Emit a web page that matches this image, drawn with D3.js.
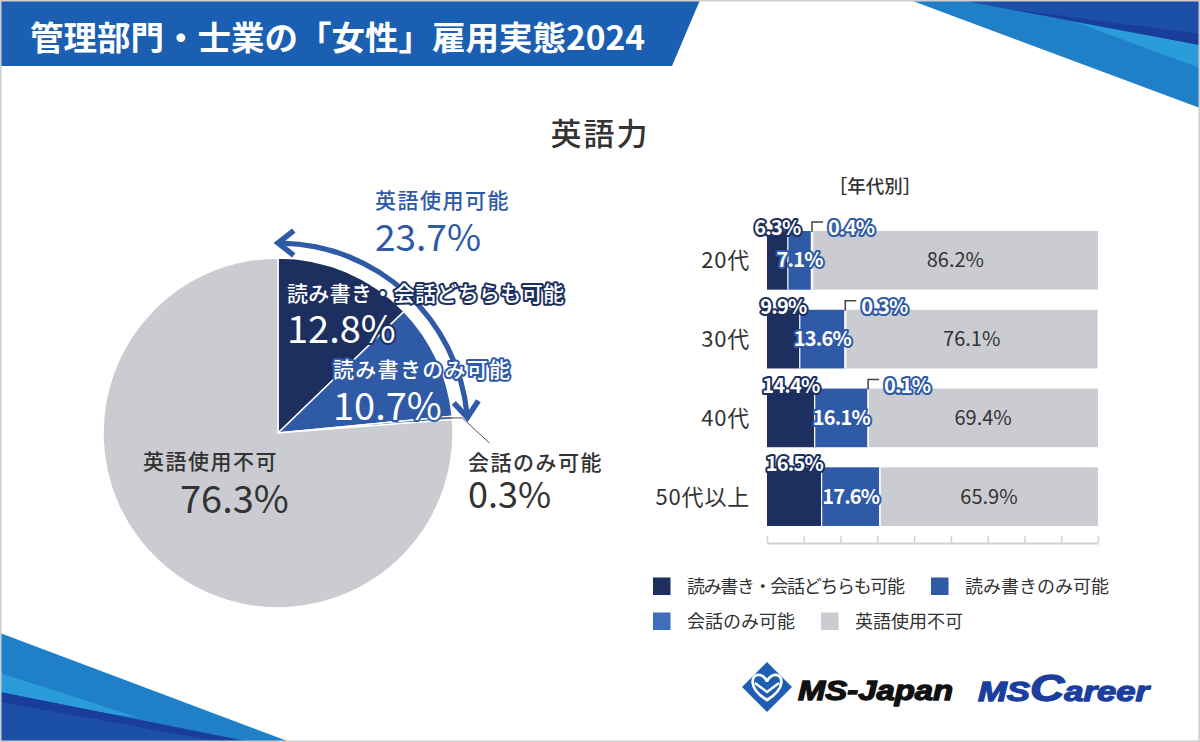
<!DOCTYPE html>
<html><head><meta charset="utf-8">
<script src="https://cdn.jsdelivr.net/npm/d3@7"></script>
<style>
body{margin:0;background:#fff;}
svg{display:block;font-family:"Noto Sans CJK JP","Noto Sans",sans-serif;}
</style></head><body>
<svg id="c" width="1200" height="742"></svg>
<script>
// ---------- DATA ----------
const headerTitle = "管理部門・士業の「女性」雇用実態2024";
const chartTitle = "英語力";
const subTitle = "［年代別］";
const categories = ["読み書き・会話どちらも可能", "読み書きのみ可能", "会話のみ可能", "英語使用不可"];
const colors = ["#1c2f5e", "#2f5aa5", "#3f6fba", "#cbccd1"];
const overallValues = [12.8, 10.7, 0.3, 76.3];
const usableLabel = "英語使用可能";
const usableValue = 23.7;
const ageGroups = ["20代", "30代", "40代", "50代以上"];
const bothValues = [6.3, 9.9, 14.4, 16.5];
const readValues = [7.1, 13.6, 16.1, 17.6];
const talkValues = [0.4, 0.3, 0.1, 0];
const noneValues = [86.2, 76.1, 69.4, 65.9];
const axisTicks = [0, 11.11, 22.22, 33.33, 44.44, 55.56, 66.67, 77.78, 88.89, 100];
const logoLeft = "MS-Japan";
const logoRight = ["MS", "C", "areer"];

// ---------- SETUP ----------
const svg = d3.select("#c");
const fmt = v => v.toFixed(1) + "%";

// ---------- DECORATION ----------
const deco = svg.append("g");
const poly = (pts, fill) => deco.append("polygon").attr("points", pts.map(p => p.join(",")).join(" ")).attr("fill", fill);
poly([[910,0],[1200,0],[1200,108]], "#1f80c8");
poly([[1075,22],[1200,45],[1200,68]], "#2b9cda");
poly([[960,0],[1200,0],[1200,45]], "#1b4fa8");
poly([[1010,9],[1200,34],[1200,45]], "#1a3d9c");
poly([[0,633],[290,742],[0,742]], "#1f80c8");
poly([[0,673],[140,718],[0,697]], "#2b9cda");
poly([[0,692],[250,742],[0,742]], "#1b4fa8");
poly([[0,692],[250,742],[222,742],[0,702]], "#1a3d9c");

// header band
poly([[0,0],[700,0],[672,66],[0,66]], "#1b5fb2");
svg.append("text").attr("x", 30).attr("y", 50)
  .attr("fill", "#fff").attr("font-size", 33).attr("font-weight", 700)
  .attr("textLength", 615).attr("lengthAdjust", "spacingAndGlyphs").text(headerTitle);

// title
svg.append("text").attr("x", 600).attr("y", 145).attr("text-anchor", "middle")
  .attr("font-size", 31).attr("font-weight", 500).attr("fill", "#333")
  .attr("letter-spacing", 2).text(chartTitle);

// ---------- PIE ----------
const cx = 278, cy = 433, R = 175;
const pieG = svg.append("g").attr("transform", `translate(${cx},${cy})`);
const pieData = d3.pie().sort(null).value(d => d)(overallValues);
const arc = d3.arc().innerRadius(0).outerRadius(R);
pieG.selectAll("path.slice").data(pieData).join("path")
  .attr("class", "slice").attr("d", arc)
  .attr("fill", (d, i) => colors[i]).attr("stroke", "#fff").attr("stroke-width", 1.5);

// arrow arc for "英語使用可能"
const rA = 190;
const aEnd = usableValue / 100 * 2 * Math.PI;
const aStart = 0;
pieG.append("path")
  .attr("d", d3.arc().innerRadius(rA - 2.6).outerRadius(rA + 2.6).startAngle(aStart + 0.02).endAngle(aEnd - 0.02)())
  .attr("fill", colors[1]);
function arrowHead(a, dirSign) {
  const tip = [rA * Math.sin(a), -rA * Math.cos(a)];
  const t = [Math.cos(a) * dirSign, Math.sin(a) * dirSign];
  const L = 20, ang = 38 * Math.PI / 180;
  const rot = (v, th) => [v[0] * Math.cos(th) - v[1] * Math.sin(th), v[0] * Math.sin(th) + v[1] * Math.cos(th)];
  const b1 = rot(t, ang), b2 = rot(t, -ang);
  const p1 = [tip[0] - L * b1[0], tip[1] - L * b1[1]];
  const p2 = [tip[0] - L * b2[0], tip[1] - L * b2[1]];
  pieG.append("path").attr("d", `M${p1}L${tip}L${p2}`)
    .attr("fill", "none").attr("stroke", colors[1]).attr("stroke-width", 5.5)
    .attr("stroke-linejoin", "miter").attr("stroke-linecap", "butt");
}
arrowHead(aStart, -1);
arrowHead(aEnd, 1);

// pie labels
function outlined(g, x, y, size, weight, stroke, str, ls) {
  return g.append("text").attr("x", x).attr("y", y).attr("font-size", size).attr("font-weight", weight)
    .attr("fill", "#fff").attr("stroke", stroke).attr("stroke-width", 4).attr("stroke-linejoin", "round")
    .attr("paint-order", "stroke").attr("letter-spacing", ls || 0).text(str);
}
const plain = (g, x, y, size, weight, fill, str, ls) =>
  g.append("text").attr("x", x).attr("y", y).attr("font-size", size).attr("font-weight", weight)
    .attr("fill", fill).attr("letter-spacing", ls || 0).text(str);

plain(pieG, 97, -225, 21, 500, colors[1], usableLabel, 1.5);
plain(pieG, 97, -182, 37, 400, colors[1], fmt(usableValue));
outlined(pieG, 9, -132, 21, 500, colors[0], categories[0])
  .attr("textLength", 277).attr("lengthAdjust", "spacing");
outlined(pieG, 9, -90, 38, 400, colors[0], fmt(overallValues[0]));
outlined(pieG, 55, -56, 21, 500, colors[1], categories[1], 1.3);
outlined(pieG, 55, -13, 38, 400, colors[1], fmt(overallValues[1]));
// leader for 0.3%
const midTalk = (pieData[2].startAngle + pieData[2].endAngle) / 2;
const lp = [R * Math.sin(midTalk), -R * Math.cos(midTalk)];
pieG.append("path").attr("d", `M${lp[0] - 12},${lp[1]}L${lp[0] + 10},${lp[1]}L${lp[0] + 37},${lp[1] + 25}`)
  .attr("fill", "none").attr("stroke", "#555").attr("stroke-width", 1);
plain(pieG, 190, 37, 21, 500, "#333", categories[2], 1.5);
plain(pieG, 190, 75, 36, 400, "#333", fmt(overallValues[2]));
plain(pieG, -135, 36, 21, 500, "#333", categories[3], 1.5);
plain(pieG, -98, 80, 38, 400, "#333", fmt(overallValues[3]));

// ---------- STACKED BARS ----------
svg.append("text").attr("x", 875).attr("y", 193).attr("text-anchor", "middle")
  .attr("font-size", 18.5).attr("font-weight", 500).attr("fill", "#333").text(subTitle);

const rows = ageGroups.map((g, i) => ({ group: g, both: bothValues[i], read: readValues[i], talk: talkValues[i], none: noneValues[i] }));
const keys = ["both", "read", "talk", "none"];
const stack = d3.stack().keys(keys)(rows);
const x = d3.scaleLinear().domain([0, 100]).range([767, 1098]);
const y = d3.scaleBand().domain(ageGroups).range([231, 526]).paddingInner(0.255).paddingOuter(0);

const barG = svg.append("g");
stack.forEach((layer, k) => {
  barG.selectAll(null).data(layer).join("rect")
    .attr("x", d => x(d[0])).attr("width", d => Math.max(0, x(d[1]) - x(d[0])))
    .attr("y", d => y(d.data.group)).attr("height", y.bandwidth())
    .attr("fill", colors[k]);
});
stack.slice(0, 3).forEach(layer => {
  barG.selectAll(null).data(layer).join("line")
    .attr("x1", d => x(d[1])).attr("x2", d => x(d[1]))
    .attr("y1", d => y(d.data.group)).attr("y2", d => y(d.data.group) + y.bandwidth())
    .attr("stroke", "#fff").attr("stroke-width", 1.2);
});

// axis
const axisG = svg.append("g").attr("transform", "translate(0,543)")
  .call(d3.axisBottom(x).tickValues(axisTicks).tickSize(-7).tickSizeOuter(0).tickFormat(""));
axisG.select(".domain").attr("stroke", "#d2d2d2").attr("stroke-width", 2);
axisG.selectAll(".tick line").attr("stroke", "#d2d2d2").attr("stroke-width", 1.5);

// group labels
svg.append("g").selectAll("text").data(ageGroups).join("text")
  .attr("x", 750).attr("y", d => y(d) + y.bandwidth() / 2 + 8)
  .attr("text-anchor", "end").attr("font-size", 22).attr("fill", "#333").attr("letter-spacing", 0.8)
  .text(d => d);

const labG = svg.append("g");
stack[0].forEach(d => {
  outlined(labG, (x(d[0]) + x(d[1])) / 2, y(d.data.group) + 4, 20, 700, colors[0], fmt(d[1] - d[0]), -0.8)
    .attr("text-anchor", "middle");
});
stack[1].forEach(d => {
  outlined(labG, (x(d[0]) + x(d[1])) / 2, y(d.data.group) + y.bandwidth() / 2 + 7, 20, 700, colors[1], fmt(d[1] - d[0]), -0.8)
    .attr("text-anchor", "middle");
});
stack[2].forEach(d => {
  const v = d[1] - d[0];
  if (v <= 0) return;
  const xc = (x(d[0]) + x(d[1])) / 2, top = y(d.data.group);
  labG.append("path").attr("d", `M${xc},${top + 1}V${top - 9}H${xc + 11}`)
    .attr("fill", "none").attr("stroke", "#444").attr("stroke-width", 1.5);
  outlined(labG, xc + 16, top + 4, 20, 700, colors[1], fmt(v), -0.8);
});
stack[3].forEach(d => {
  labG.append("text").attr("x", (x(d[0]) + x(d[1])) / 2).attr("y", y(d.data.group) + y.bandwidth() / 2 + 7)
    .attr("text-anchor", "middle").attr("font-size", 20).attr("fill", "#333").text(fmt(d[1] - d[0]));
});

// ---------- LEGEND ----------
const legRows = [[0, 1], [2, 3]];
const legY = [586, 621];
const legLen = [218, null, null, null];
legRows.forEach((row, r) => {
  let cur = 653;
  row.forEach(i => {
    svg.append("rect").attr("x", cur).attr("y", legY[r] - 8.5).attr("width", 17.5).attr("height", 17.5).attr("fill", colors[i]);
    const t = svg.append("text").attr("x", cur + 34).attr("y", legY[r] + 6.5)
      .attr("font-size", 18).attr("fill", "#333").text(categories[i]);
    if (legLen[i]) t.attr("textLength", legLen[i]).attr("lengthAdjust", "spacing");
    const w = legLen[i] || t.node().getComputedTextLength();
    cur = cur + 34 + w + 26;
  });
});

// ---------- LOGOS ----------
const lg = svg.append("g");
const dc = [767, 687], dh = 25;
lg.append("polygon").attr("points", [[dc[0], dc[1] - dh], [dc[0] + dh, dc[1]], [dc[0], dc[1] + dh], [dc[0] - dh, dc[1]]].map(p => p.join(",")).join(" "))
  .attr("fill", "#1d5eb2");
lg.append("path").attr("d", `M${dc[0]},${dc[1] + 13} C${dc[0] - 20},${dc[1] + 1} ${dc[0] - 16},${dc[1] - 14} ${dc[0] - 7},${dc[1] - 12} C${dc[0] - 3},${dc[1] - 11} ${dc[0]},${dc[1] - 7} ${dc[0]},${dc[1] - 5} C${dc[0]},${dc[1] - 7} ${dc[0] + 3},${dc[1] - 11} ${dc[0] + 7},${dc[1] - 12} C${dc[0] + 16},${dc[1] - 14} ${dc[0] + 20},${dc[1] + 1} ${dc[0]},${dc[1] + 13}Z`)
  .attr("fill", "none").attr("stroke", "#fff").attr("stroke-width", 2.8);
lg.append("path").attr("d", `M${dc[0] - 12},${dc[1] - 4} L${dc[0]},${dc[1] + 5} L${dc[0] + 12},${dc[1] - 4}`)
  .attr("fill", "none").attr("stroke", "#fff").attr("stroke-width", 2.4);
lg.append("text").attr("x", 798).attr("y", 700).attr("font-family", "'Liberation Sans',Arial,sans-serif")
  .attr("font-size", 27).attr("font-weight", 700).attr("font-style", "italic").attr("fill", "#111")
  .attr("stroke", "#111").attr("stroke-width", 1.3).attr("stroke-linejoin", "round")
  .attr("textLength", 155).attr("lengthAdjust", "spacingAndGlyphs").text(logoLeft);
const rt = lg.append("text").attr("x", 978).attr("y", 701).attr("font-family", "'Liberation Sans',Arial,sans-serif")
  .attr("font-weight", 700).attr("font-style", "italic").attr("fill", "#1c3f9e")
  .attr("stroke", "#1c3f9e").attr("stroke-width", 1.3).attr("stroke-linejoin", "round")
  .attr("textLength", 171).attr("lengthAdjust", "spacingAndGlyphs");
rt.append("tspan").attr("font-size", 27).text(logoRight[0]);
rt.append("tspan").attr("font-size", 37).text(logoRight[1]);
rt.append("tspan").attr("font-size", 27).text(logoRight[2]);

// border
svg.append("rect").attr("x", 0.75).attr("y", 0.75).attr("width", 1198.5).attr("height", 740.5)
  .attr("fill", "none").attr("stroke", "#cfcfcf").attr("stroke-width", 1.5);
</script>
</body></html>
